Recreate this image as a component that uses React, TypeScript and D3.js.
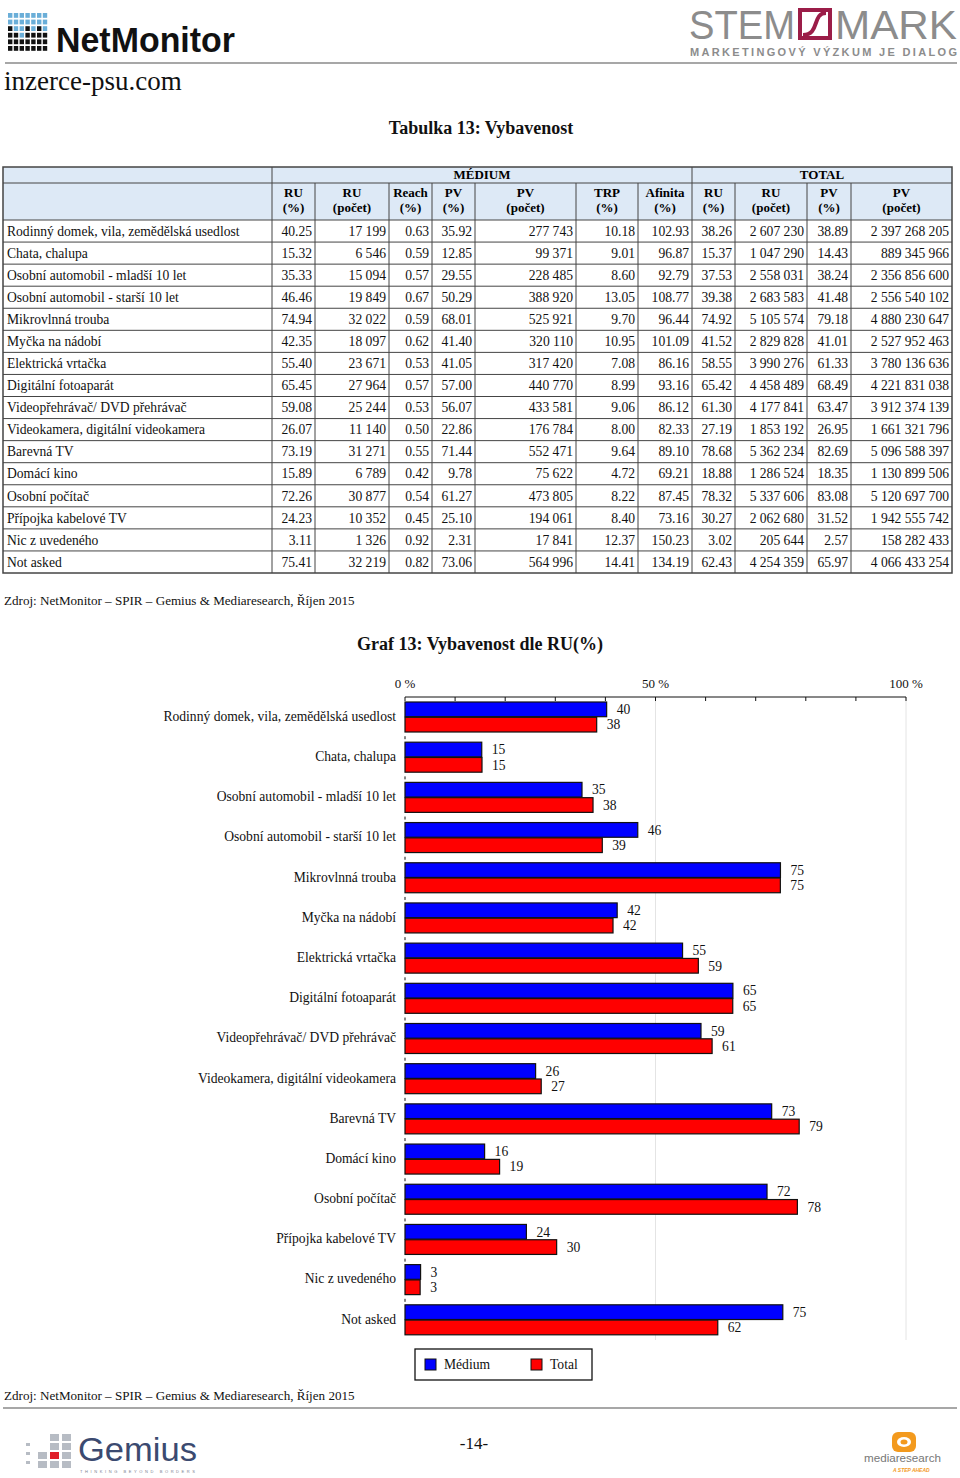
import React from "react";
import * as d3 from "d3";

const categories = [
  "Rodinný domek, vila, zemědělská usedlost",
  "Chata, chalupa",
  "Osobní automobil - mladší 10 let",
  "Osobní automobil - starší 10 let",
  "Mikrovlnná trouba",
  "Myčka na nádobí",
  "Elektrická vrtačka",
  "Digitální fotoaparát",
  "Videopřehrávač/ DVD přehrávač",
  "Videokamera, digitální videokamera",
  "Barevná TV",
  "Domácí kino",
  "Osobní počítač",
  "Přípojka kabelové TV",
  "Nic z uvedeného",
  "Not asked",
];

const medRuPct = [40.25, 15.32, 35.33, 46.46, 74.94, 42.35, 55.4, 65.45, 59.08, 26.07, 73.19, 15.89, 72.26, 24.23, 3.11, 75.41];
const medRuCount = [17199, 6546, 15094, 19849, 32022, 18097, 23671, 27964, 25244, 11140, 31271, 6789, 30877, 10352, 1326, 32219];
const medReach = [0.63, 0.59, 0.57, 0.67, 0.59, 0.62, 0.53, 0.57, 0.53, 0.5, 0.55, 0.42, 0.54, 0.45, 0.92, 0.82];
const medPvPct = [35.92, 12.85, 29.55, 50.29, 68.01, 41.4, 41.05, 57.0, 56.07, 22.86, 71.44, 9.78, 61.27, 25.1, 2.31, 73.06];
const medPvCount = [277743, 99371, 228485, 388920, 525921, 320110, 317420, 440770, 433581, 176784, 552471, 75622, 473805, 194061, 17841, 564996];
const medTrp = [10.18, 9.01, 8.6, 13.05, 9.7, 10.95, 7.08, 8.99, 9.06, 8.0, 9.64, 4.72, 8.22, 8.4, 12.37, 14.41];
const medAfinita = [102.93, 96.87, 92.79, 108.77, 96.44, 101.09, 86.16, 93.16, 86.12, 82.33, 89.1, 69.21, 87.45, 73.16, 150.23, 134.19];
const totRuPct = [38.26, 15.37, 37.53, 39.38, 74.92, 41.52, 58.55, 65.42, 61.3, 27.19, 78.68, 18.88, 78.32, 30.27, 3.02, 62.43];
const totRuCount = [2607230, 1047290, 2558031, 2683583, 5105574, 2829828, 3990276, 4458489, 4177841, 1853192, 5362234, 1286524, 5337606, 2062680, 205644, 4254359];
const totPvPct = [38.89, 14.43, 38.24, 41.48, 79.18, 41.01, 61.33, 68.49, 63.47, 26.95, 82.69, 18.35, 83.08, 31.52, 2.57, 65.97];
const totPvCount = [2397268205, 889345966, 2356856600, 2556540102, 4880230647, 2527952463, 3780136636, 4221831038, 3912374139, 1661321796, 5096588397, 1130899506, 5120697700, 1942555742, 158282433, 4066433254];

const columnHeaders = [
  ["RU", "(%)"], ["RU", "(počet)"], ["Reach", "(%)"], ["PV", "(%)"], ["PV", "(počet)"],
  ["TRP", "(%)"], ["Afinita", "(%)"], ["RU", "(%)"], ["RU", "(počet)"], ["PV", "(%)"], ["PV", "(počet)"],
];
const groupHeaders = ["MÉDIUM", "TOTAL"];
const seriesNames = ["Médium", "Total"];
const seriesColors = ["#0000ff", "#ff0000"];
const axisTicks = [0, 50, 100];

const SERIF = "'Liberation Serif', 'DejaVu Serif', serif";
const SANS = "'Liberation Sans', Arial, sans-serif";

const fmtPct = (v: number) => v.toFixed(2);
const fmtCount = (v: number) => d3.format(",")(v).replace(/,/g, " ");

export default function App() {
  // ---------- table ----------
  const colX = [3, 272, 315, 389, 432, 475, 576, 638, 692, 735, 807, 851, 952];
  const tableCols: [number[], (v: number) => string][] = [
    [medRuPct, fmtPct], [medRuCount, fmtCount], [medReach, fmtPct], [medPvPct, fmtPct],
    [medPvCount, fmtCount], [medTrp, fmtPct], [medAfinita, fmtPct],
    [totRuPct, fmtPct], [totRuCount, fmtCount], [totPvPct, fmtPct], [totPvCount, fmtCount],
  ];
  const hTop = 167, hMid = 183, hBot = 220, tBot = 573;
  const rowScale = d3.scaleBand<number>().domain(d3.range(categories.length)).range([hBot, tBot]);
  const rh = rowScale.bandwidth();

  // ---------- chart ----------
  const x = d3.scaleLinear().domain([0, 100]).range([405, 906]);
  const y = d3.scaleBand<string>().domain(categories).range([697, 1340]);
  const ySub = d3.scaleBand<string>().domain(seriesNames).range([5, 35]).paddingInner(0.04);
  const chartSeries = [medRuPct, totRuPct];
  const gridTicks = d3.range(0, 101, 10);

  const netPattern = [
    "BBBBBBB",
    "BBBBBBB",
    "KBBKBKB",
    "KKBKKKK",
    "KKKKKKK",
    "KKKKKKK",
  ];

  const FS = 13.6;

  return (
    <svg
      width={960}
      height={1478}
      style={{ position: "absolute", left: 0, top: 0, background: "#fff" }}
      fontFamily={SERIF}
    >
      <rect x={0} y={0} width={960} height={1478} fill="#fff" />

      {/* NetMonitor logo */}
      <g>
        {netPattern.map((row, r) =>
          row.split("").map((c, ci) => (
            <rect
              key={`nm${r}-${ci}`}
              x={8 + ci * 5.8}
              y={13 + r * 6.6}
              width={4.4}
              height={4.8}
              fill={c === "B" ? "#6aaed8" : "#111"}
            />
          ))
        )}
        <text x={56} y={52} fontFamily={SANS} fontWeight="bold" fontSize={35} textLength={179} lengthAdjust="spacingAndGlyphs" fill="#111">
          NetMonitor
        </text>
      </g>
      <text x={4} y={90} fontSize={27} fill="#111">inzerce-psu.com</text>

      {/* STEM/MARK logo */}
      <g fill="#8c8c8c" fontFamily={SANS}>
        <text x={689} y={39} fontSize={40} textLength={106} lengthAdjust="spacingAndGlyphs" fontWeight={300}>STEM</text>
        <rect x={798} y={8} width={34} height={32} fill="#9b1d48" />
        <rect x={802} y={12} width={26} height={24} fill="#fff" />
        <path d="M826,13 C812,13 820,35 803,35" stroke="#9b1d48" strokeWidth={4} fill="none" />
        <text x={835} y={39} fontSize={40} textLength={122} lengthAdjust="spacingAndGlyphs" fontWeight={300}>MARK</text>
        <text x={690} y={56} fontSize={11} fontWeight="bold" textLength={267} lengthAdjust="spacing">MARKETINGOVÝ VÝZKUM JE DIALOG</text>
      </g>
      <line x1={5} x2={957} y1={63} y2={63} stroke="#8a8a8a" strokeWidth={1.5} />

      {/* Table title */}
      <text x={481} y={134} textAnchor="middle" fontSize={18} fontWeight="bold" fill="#111">Tabulka 13: Vybavenost</text>

      {/* Table header background */}
      <rect x={colX[0]} y={hTop} width={colX[12] - colX[0]} height={hBot - hTop} fill="#dde9f6" />
      <text x={(colX[1] + colX[8]) / 2} y={hTop + 12} textAnchor="middle" fontSize={13} fontWeight="bold">{groupHeaders[0]}</text>
      <text x={(colX[8] + colX[12]) / 2} y={hTop + 12} textAnchor="middle" fontSize={13} fontWeight="bold">{groupHeaders[1]}</text>
      {columnHeaders.map((h, i) => (
        <text key={`ch${i}`} x={(colX[i + 1] + colX[i + 2]) / 2} textAnchor="middle" fontSize={13} fontWeight="bold">
          <tspan x={(colX[i + 1] + colX[i + 2]) / 2} y={197}>{h[0]}</tspan>
          <tspan x={(colX[i + 1] + colX[i + 2]) / 2} y={212}>{h[1]}</tspan>
        </text>
      ))}

      {/* Table body */}
      {categories.map((c, r) => {
        const yy = (rowScale(r) as number) + rh / 2;
        return (
          <g key={`row${r}`} fontSize={FS} fill="#111">
            <text x={colX[0] + 4} y={yy} dy="0.35em">{c}</text>
            {tableCols.map(([arr, f], ci) => (
              <text key={`c${ci}`} x={colX[ci + 2] - 3} y={yy} dy="0.35em" textAnchor="end">{f(arr[r])}</text>
            ))}
          </g>
        );
      })}

      {/* Table grid */}
      <g stroke="#444" strokeWidth={1}>
        <line x1={colX[0]} x2={colX[12]} y1={hMid} y2={hMid} />
        <line x1={colX[0]} x2={colX[12]} y1={hBot} y2={hBot} />
        {categories.map((_, r) => r > 0 ? (
          <line key={`hl${r}`} x1={colX[0]} x2={colX[12]} y1={rowScale(r) as number} y2={rowScale(r) as number} />
        ) : null)}
        {colX.slice(1, 12).map((cx, i) => (
          <line key={`vl${i}`} x1={cx} x2={cx} y1={i === 0 || i === 7 ? hTop : hMid} y2={tBot} />
        ))}
        <rect x={colX[0]} y={hTop} width={colX[12] - colX[0]} height={tBot - hTop} fill="none" strokeWidth={1.5} />
      </g>

      <text x={4} y={605} fontSize={13.1} fill="#111">Zdroj: NetMonitor – SPIR – Gemius &amp; Mediaresearch, Říjen 2015</text>

      {/* Chart title */}
      <text x={480} y={650} textAnchor="middle" fontSize={18} fontWeight="bold" fill="#111">Graf 13: Vybavenost dle RU(%)</text>

      {/* Chart grid */}
      <g stroke="#e4e4e4" strokeWidth={1}>
        {[50, 100].map((t) => (
          <line key={`g${t}`} x1={x(t)} x2={x(t)} y1={697} y2={1340} />
        ))}
      </g>

      {/* Axis */}
      <g>
        <line x1={x(0)} x2={x(100)} y1={697} y2={697} stroke="#111" strokeWidth={1} />
        {gridTicks.map((t) => (
          <line key={`t${t}`} x1={x(t)} x2={x(t)} y1={697} y2={701} stroke="#111" />
        ))}
        {axisTicks.map((t) => (
          <text key={`al${t}`} x={x(t)} y={688} textAnchor="middle" fontSize={13} fill="#111">{t} %</text>
        ))}
        {categories.slice(1).map((c) => (
          <line key={`yt${c}`} x1={x(0)} x2={x(0)} y1={(y(c) as number) - 1} y2={(y(c) as number) + 2} stroke="#111" />
        ))}
      </g>

      {/* Bars */}
      {categories.map((c, i) => (
        <g key={`bar${i}`} transform={`translate(0,${y(c)})`}>
          {chartSeries.map((s, si) => {
            const by = ySub(seriesNames[si]) as number;
            const bh = ySub.bandwidth();
            return (
              <g key={`s${si}`}>
                <rect x={x(0)} y={by} width={x(s[i]) - x(0)} height={bh} fill={seriesColors[si]} stroke="#111" strokeWidth={1.2} />
                <text x={x(s[i]) + 10} y={by + bh / 2} dy="0.35em" fontSize={FS} fill="#111">{Math.round(s[i])}</text>
              </g>
            );
          })}
          <text x={396} y={y.bandwidth() / 2 - 1} dy="0.35em" textAnchor="end" fontSize={FS} fill="#111">{c}</text>
        </g>
      ))}

      {/* Legend */}
      <g>
        <rect x={415} y={1349} width={177} height={31} fill="#fff" stroke="#111" strokeWidth={1.3} />
        {seriesNames.map((n, i) => (
          <g key={`lg${n}`} transform={`translate(${425 + i * 106},0)`}>
            <rect x={0} y={1359} width={11} height={11} fill={seriesColors[i]} stroke="#111" strokeWidth={1} />
            <text x={19} y={1369} fontSize={FS} fill="#111">{n}</text>
          </g>
        ))}
      </g>

      <text x={4} y={1400} fontSize={13.1} fill="#111">Zdroj: NetMonitor – SPIR – Gemius &amp; Mediaresearch, Říjen 2015</text>
      <line x1={3} x2={957} y1={1408} y2={1408} stroke="#8a8a8a" strokeWidth={1.5} />

      {/* Gemius logo */}
      <g>
        {d3.range(4).map((ci) =>
          d3.range(4).map((r) => {
            const show = r >= 3 - ci || ci >= 2;
            if (!show && !(ci === 0 && r >= 1)) return null;
            const isRed = ci === 2 && r === 2;
            return (
              <rect
                key={`gm${ci}-${r}`}
                x={26 + ci * 12}
                y={1434 + r * 9}
                width={ci === 0 ? 4 : 9}
                height={ci === 0 ? 3 : 7}
                fill={isRed ? "#e0202a" : "#b7bcc4"}
              />
            );
          })
        )}
        <text x={78} y={1461} fontFamily={SANS} fontSize={34} textLength={119} lengthAdjust="spacingAndGlyphs" fill="#3b4a70">Gemius</text>
        <text x={80} y={1473} fontFamily={SANS} fontSize={4} textLength={115} lengthAdjust="spacing" fill="#7a8090">THINKING BEYOND BORDERS</text>
      </g>

      <text x={474} y={1449} textAnchor="middle" fontSize={17} fill="#111">-14-</text>

      {/* mediaresearch logo */}
      <g>
        <rect x={892} y={1432} width={24} height={20} rx={6} fill="#f39a1e" />
        <ellipse cx={904} cy={1442} rx={7} ry={5} fill="#fff" />
        <ellipse cx={904} cy={1442} rx={3.5} ry={2.5} fill="#f39a1e" />
        <text x={864} y={1462} fontFamily={SANS} fontSize={11} textLength={77} lengthAdjust="spacingAndGlyphs" fill="#777">mediaresearch</text>
        <text x={893} y={1472} fontFamily={SANS} fontSize={5} fontWeight="bold" fontStyle="italic" fill="#f39a1e">A STEP AHEAD</text>
      </g>
    </svg>
  );
}
